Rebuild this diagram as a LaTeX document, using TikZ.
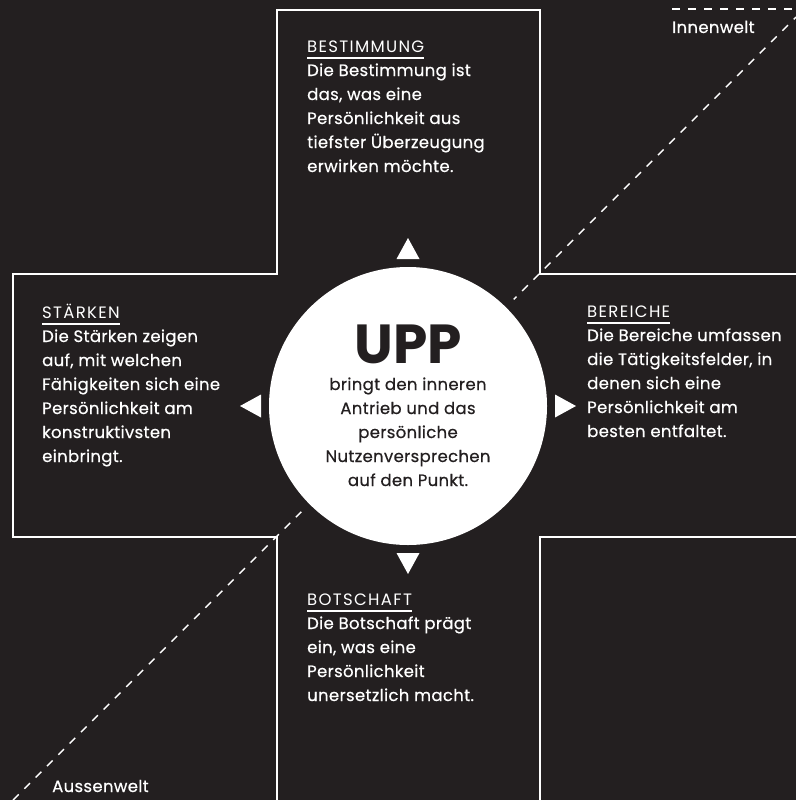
\documentclass[tikz,border=0pt]{standalone}
\usepackage{fontspec}
\setmainfont{Poppins}[LetterSpace=8]
\newfontfamily\bodyfont{Poppins}[FakeBold=0.5, LetterSpace=2]
\newfontfamily\uppfont{Poppins}
\usetikzlibrary{calc}
\definecolor{board}{RGB}{35,31,32}

\tikzset{
  frame/.style={draw=white, line width=1.8pt},
  border/.style={draw=white, line width=1.4pt, dash pattern=on 8pt off 8pt},
  % anchored at the baseline of the last line
  field/.style={text=white, font=\bodyfont\fontsize{16.5}{24}\selectfont,
    align=left, anchor=base west, inner sep=0pt},
  core/.style={text=board, font=\bodyfont\fontsize{16.5}{24}\selectfont,
    align=center, anchor=base, inner sep=0pt},
}
\newcommand\headline[1]{{\rmfamily\setbox0\hbox{#1}%
  \rlap{\rule[-6.5pt]{\wd0}{1.2pt}}\box0}}

\begin{document}
\begin{tikzpicture}[x=1pt, y=-1pt]
\fill[board] (0,0) rectangle (796,800);
\useasboundingbox (0,0) rectangle (796,800);

% Innenwelt / Aussenwelt
\coordinate (outer) at (13,800);
\coordinate (inner) at (796,17);
\coordinate (edge-a) at (672,9);
\coordinate (edge-b) at (796,9);
\draw[border] (outer) -- (inner);
\draw[border] (edge-a) -- (edge-b);

% cross
\draw[frame] (540,800) -- (540,537) -- (797,537);
\draw[frame] (797,274) -- (540,274) -- (540,10) -- (277,10) -- (277,274)
  -- (13,274) -- (13,537) -- (277,537) -- (277,800);

% centre
\fill[board] (408,406) circle (150);
\node[circle, fill=white, minimum size=278pt, inner sep=0pt] (upp) at (408,406) {};
\node[text=board, font=\uppfont\fontsize{55}{55}\selectfont\bfseries,
  anchor=base, inner sep=0pt, text depth=0pt] (upp-title) at (408,363) {UPP};
\node[core] (upp-text) at (408,486) {bringt den inneren\\Antrieb und das\\persönliche\\Nutzenversprechen\\auf den Punkt.};

\foreach \ang in {0,90,180,270}
  \fill[white, rotate around={\ang:(upp.center)}]
    ($(upp.center)+(0,-168)$) -- ++(11.5,21) -- ++(-23,0) -- cycle;

% fields
\node[field] (bestimmung) at (307,172) {\headline{BESTIMMUNG}\\Die Bestimmung ist\\das, was eine\\Persönlichkeit aus\\tiefster Überzeugung\\erwirken möchte.};
\node[field] (staerken) at (42,462) {\headline{STÄRKEN}\\Die Stärken zeigen\\auf, mit welchen\\Fähigkeiten sich eine\\Persönlichkeit am\\konstruktivsten\\einbringt.};
\node[field] (bereiche) at (587,437) {\headline{BEREICHE}\\Die Bereiche umfassen\\die Tätigkeitsfelder, in\\denen sich eine\\Persönlichkeit am\\besten entfaltet.};
\node[field] (botschaft) at (307,701) {\headline{BOTSCHAFT}\\Die Botschaft prägt\\ein, was eine\\Persönlichkeit\\unersetzlich macht.};

\node[field] (innenwelt) at (672,33) {Innenwelt};
\node[field] (aussenwelt) at (52,792) {Aussenwelt};
\end{tikzpicture}
\end{document}
